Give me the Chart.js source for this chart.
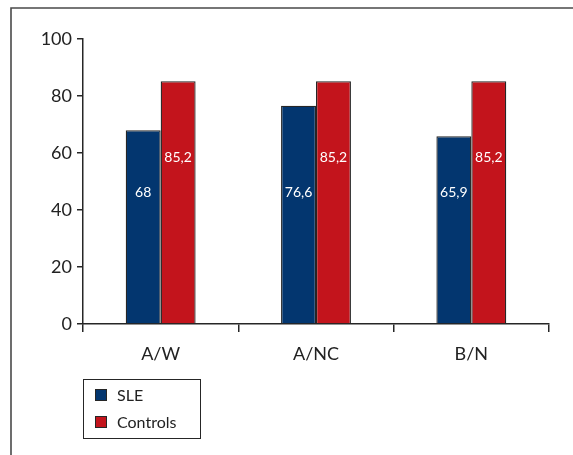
<!DOCTYPE html>
<html>
<head>
<meta charset="utf-8">
<script src="https://cdn.jsdelivr.net/npm/chart.js@4.4.1/dist/chart.umd.min.js"></script>
<style>
  body { margin: 0; background: #fff; }
  canvas { display: block; }
</style>
</head>
<body>
<canvas id="grafico" width="573" height="455"></canvas>
<script>
// Datos
const categorias = ['A/W', 'A/NC', 'B/N'];
const valoresSLE = [68, 76.6, 65.9];
const valoresControles = [85.2, 85.2, 85.2];
const ticksY = [0, 20, 40, 60, 80, 100];

const azul = '#03366f';
const rojo = '#c3141c';
const tinta = '#262626';

// Marco gris (solo arriba e izquierda)
const marco = {
  id: 'marco',
  beforeDraw(chart) {
    const ctx = chart.ctx;
    ctx.save();
    ctx.strokeStyle = '#4a4a4a';
    ctx.lineWidth = 1.6;
    ctx.beginPath();
    ctx.moveTo(11, 455);
    ctx.lineTo(11, 8);
    ctx.lineTo(573, 8);
    ctx.stroke();
    ctx.restore();
  }
};

// Etiquetas dentro de las barras
const etiquetas = {
  id: 'etiquetas',
  afterDatasetsDraw(chart, args, opts) {
    const ctx = chart.ctx;
    const y = chart.scales.y;
    ctx.save();
    ctx.fillStyle = '#fff';
    ctx.font = '14px Lato';
    ctx.textAlign = 'center';
    ctx.textBaseline = 'middle';
    chart.data.datasets.forEach((ds, i) => {
      chart.getDatasetMeta(i).data.forEach((bar, j) => {
        const txt = String(ds.data[j]).replace('.', ',');
        ctx.fillText(txt, bar.x, y.getPixelForValue(opts.alturas[i]));
      });
    });
    ctx.restore();
  }
};

// Leyenda con recuadro debajo del eje
const leyenda = {
  id: 'leyenda',
  afterDraw(chart) {
    const ctx = chart.ctx;
    const x0 = chart.chartArea.left;
    const y0 = 379;
    ctx.save();
    ctx.strokeStyle = tinta;
    ctx.lineWidth = 1;
    ctx.strokeRect(x0 + 0.5, y0 + 0.5, 117, 59);
    ctx.font = '16px Lato';
    ctx.textBaseline = 'middle';
    chart.data.datasets.forEach((ds, i) => {
      const fila = y0 + 16 + i * 27;
      ctx.fillStyle = ds.backgroundColor;
      ctx.fillRect(x0 + 12, fila - 6, 12, 12);
      ctx.strokeRect(x0 + 12.5, fila - 5.5, 11, 11);
      ctx.fillStyle = '#222';
      ctx.fillText(ds.label, x0 + 34, fila + 1);
    });
    ctx.restore();
  }
};

const ctx = document.getElementById('grafico').getContext('2d');
new Chart(ctx, {
  type: 'bar',
  data: {
    labels: categorias,
    datasets: [
      {
        label: 'SLE',
        data: valoresSLE,
        backgroundColor: azul,
        borderColor: tinta,
        borderWidth: 1.3,
        categoryPercentage: 0.45,
        barPercentage: 1.0
      },
      {
        label: 'Controls',
        data: valoresControles,
        backgroundColor: rojo,
        borderColor: tinta,
        borderWidth: 1.3,
        categoryPercentage: 0.45,
        barPercentage: 1.0
      }
    ]
  },
  options: {
    responsive: false,
    animation: false,
    layout: { padding: { top: 39, right: 24, bottom: 0, left: 0 } },
    plugins: {
      legend: { display: false },
      tooltip: { enabled: false },
      etiquetas: { alturas: [46, 58.6] }
    },
    scales: {
      x: {
        grid: { offset: true, drawOnChartArea: false, tickLength: 8, color: tinta, lineWidth: 1.5 },
        border: { color: tinta, width: 1.5 },
        ticks: { color: '#222', font: { family: 'Lato', size: 18 }, padding: 11 },
        afterFit: (s) => { s.height = 131; }
      },
      y: {
        min: 0,
        max: 100,
        afterBuildTicks: (s) => { s.ticks = ticksY.map(v => ({ value: v })); },
        grid: { drawOnChartArea: false, tickLength: 6, color: tinta, lineWidth: 1.5 },
        border: { color: tinta, width: 1.5 },
        ticks: { color: '#222', font: { family: 'Lato', size: 18 }, padding: 5 },
        afterFit: (s) => { s.width = 83; }
      }
    }
  },
  plugins: [marco, etiquetas, leyenda]
});
</script>
</body>
</html>
